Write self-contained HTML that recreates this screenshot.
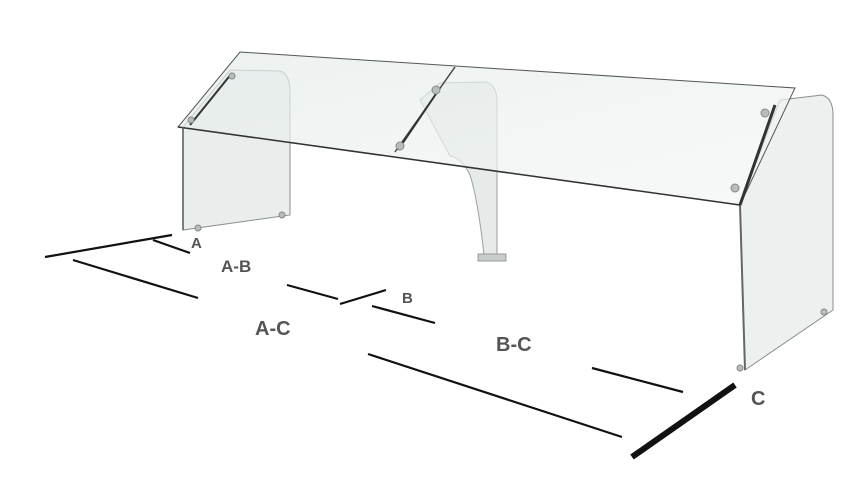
<!DOCTYPE html>
<html><head><style>html,body{margin:0;padding:0;background:#fff}svg{display:block}</style></head>
<body>
<svg width="864" height="496" viewBox="0 0 864 496" xmlns="http://www.w3.org/2000/svg">
<defs>
<linearGradient id="g1" x1="0" y1="0" x2="1" y2="1"><stop offset="0" stop-color="#e4ebe9"/><stop offset="1" stop-color="#f4f7f6"/></linearGradient>
</defs>
<path d="M183,127 L230,70 L280,71 Q290,74 290,92 L290,215 L183,230 Z" fill="#e9eeed" stroke="#8a8f8e" stroke-width="1"/>
<path d="M420,100 L440,83 L486,82 Q497,85 497,102 L497,255 L484,255 Q478,200 470,175 Q462,158 450,156 Z" fill="#e6ebea" stroke="#9a9f9e" stroke-width="1"/>
<rect x="478" y="254" width="28" height="7" fill="#c8cccb" stroke="#999"/>
<path d="M740,205 L780,100 L822,95 Q833,98 833,115 L833,310 L745,370 Z" fill="#ecf0ef" stroke="#8a8f8e" stroke-width="1"/>
<line x1="740" y1="205" x2="745" y2="370" stroke="#666" stroke-width="2"/>
<path d="M240,52 L795,88 L740,205 L178,127 Z" fill="url(#g1)" fill-opacity="0.7" stroke="#555" stroke-width="1"/>
<line x1="455" y1="67" x2="395" y2="152" stroke="#444" stroke-width="1.5"/>
<line x1="178" y1="127" x2="740" y2="205" stroke="#333" stroke-width="1.5"/>
<line x1="183" y1="127" x2="183" y2="230" stroke="#555" stroke-width="1.5"/>
<line x1="232" y1="73" x2="190" y2="125" stroke="#333" stroke-width="2"/>
<line x1="440" y1="88" x2="398" y2="150" stroke="#333" stroke-width="2"/>
<line x1="775" y1="105" x2="740" y2="205" stroke="#333" stroke-width="3"/>
<g fill="#b8bcbb" stroke="#888">
<circle cx="232" cy="76" r="3"/><circle cx="191" cy="120" r="3"/>
<circle cx="436" cy="90" r="4"/><circle cx="400" cy="146" r="4"/>
<circle cx="765" cy="113" r="4"/><circle cx="735" cy="188" r="4"/>
<circle cx="198" cy="228" r="3"/><circle cx="282" cy="215" r="3"/>
<circle cx="824" cy="312" r="3"/><circle cx="740" cy="368" r="3"/>
</g>
<g stroke="#111" stroke-width="2.2">
<line x1="45" y1="257" x2="172" y2="235"/>
<line x1="153" y1="240" x2="190" y2="253"/>
<line x1="73" y1="260" x2="198" y2="298"/>
<line x1="287" y1="285" x2="338" y2="299"/>
<line x1="340" y1="304" x2="386" y2="290"/>
<line x1="372" y1="306" x2="435" y2="323"/>
<line x1="368" y1="354" x2="622" y2="437"/>
<line x1="592" y1="368" x2="683" y2="392"/>
<line x1="632" y1="457" x2="735" y2="385" stroke-width="6"/>
</g>
<g font-family="Liberation Sans, sans-serif" font-weight="bold" fill="#555">
<text x="191" y="248" font-size="15">A</text>
<text x="221" y="272" font-size="17">A-B</text>
<text x="402" y="303" font-size="15">B</text>
<text x="255" y="335" font-size="20">A-C</text>
<text x="496" y="351" font-size="20">B-C</text>
<text x="751" y="405" font-size="20">C</text>
</g>
</svg>
</body></html>
